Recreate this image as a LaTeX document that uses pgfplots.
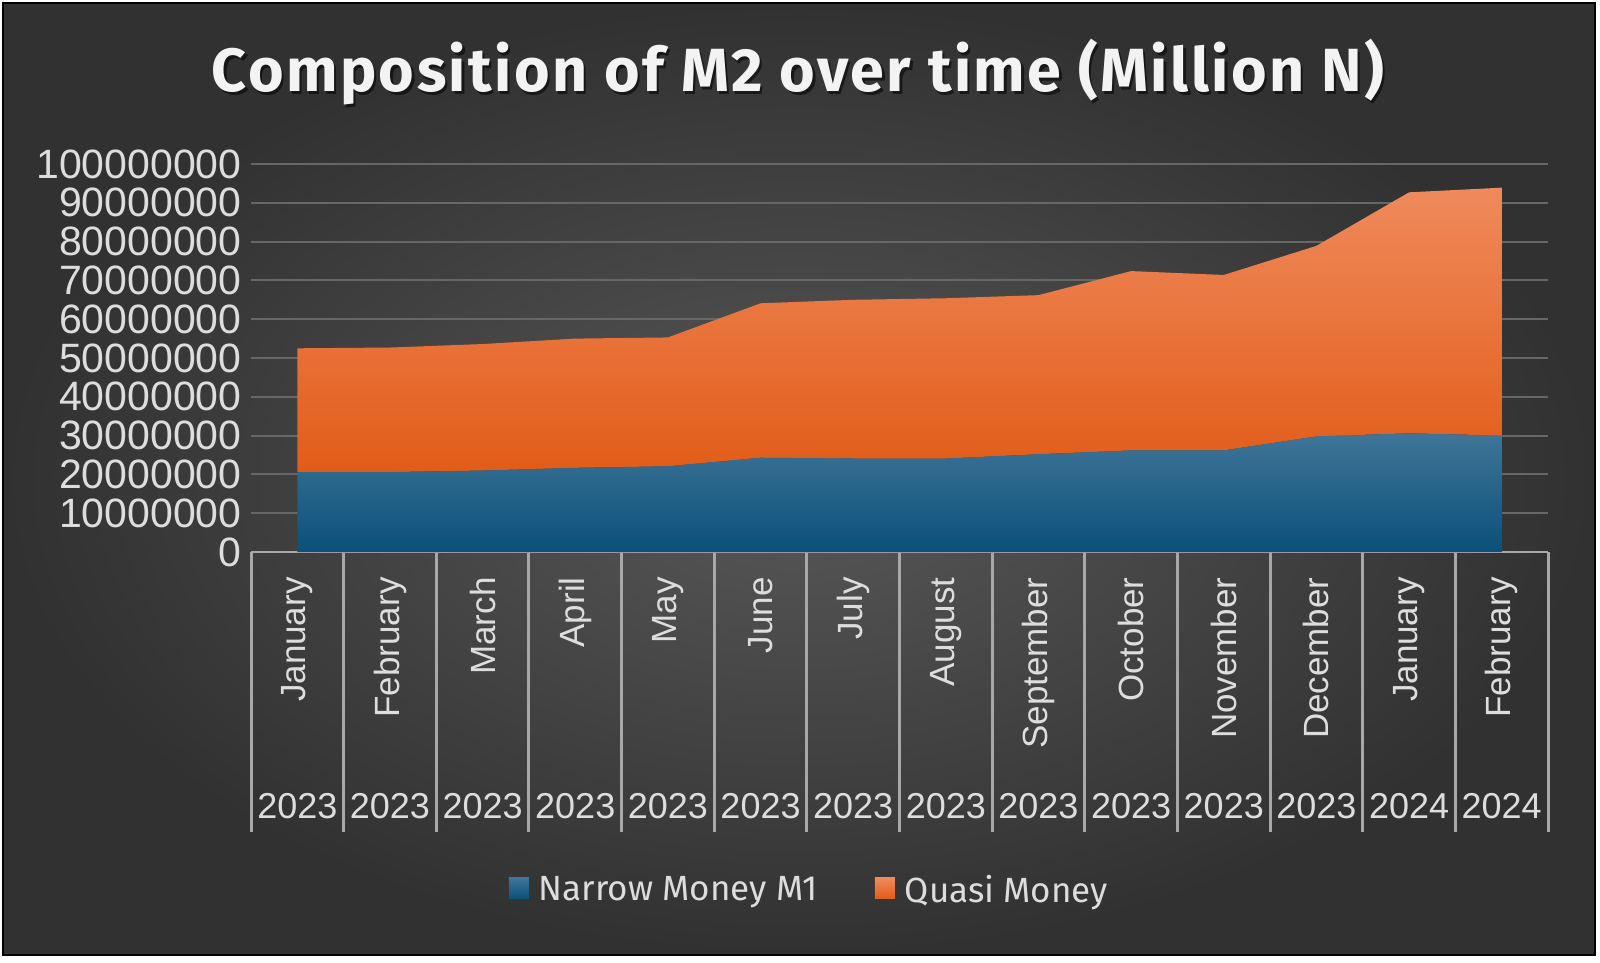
\documentclass[border=0pt]{standalone}
\usepackage{fontspec}
\setmainfont{Liberation Sans}
\newfontfamily\titlefont[LetterSpace=4]{Fira Sans}
\newfontfamily\legfont{Fira Sans}
\usepackage{pgfplots}
\usepackage{pgfplotstable}
\pgfplotsset{compat=1.18}
\definecolor{bgin}{HTML}{585858}
\definecolor{bgout}{HTML}{313131}
\definecolor{tickc}{HTML}{DDDDDD}
\definecolor{gridc}{HTML}{676767}
\definecolor{sepc}{HTML}{A8A8A8}
\definecolor{mtop}{HTML}{3F7598}
\definecolor{mbot}{HTML}{0A5078}
\definecolor{mc}{HTML}{1A6088}
\definecolor{qtop}{HTML}{EF8A5C}
\definecolor{qmid}{HTML}{EE6E2C}
\definecolor{qbot}{HTML}{E25C18}
\definecolor{qc}{HTML}{EE6E2C}
\definecolor{titc}{HTML}{F3F3F3}

\pgfplotstableread{
x m1 quasi
0 20600000 31900000
1 20600000 32100000
2 21000000 32600000
3 21700000 33300000
4 22100000 33200000
5 24300000 39800000
6 24100000 40900000
7 24100000 41300000
8 25200000 41000000
9 26200000 46200000
10 26200000 45200000
11 29800000 49100000
12 30600000 62100000
13 30000000 63900000
}\datatable

\begin{document}
\begin{tikzpicture}
\useasboundingbox (0pt,0pt) rectangle (800pt,-481.5pt);
\fill[white] (0pt,0pt) rectangle (800pt,-481.5pt);
\shade[inner color=bgin, outer color=bgout] (1.5pt,-1.5pt) rectangle (797.5pt,-477.5pt);
\draw[black, line width=0.8pt] (1.5pt,-1.5pt) rectangle (797.5pt,-477.5pt);

\node[anchor=base, text=black, opacity=0.55, font=\titlefont\bfseries\fontsize{30.5}{32}\selectfont] at (400.2pt,-47.2pt) {Composition of M2 over time (Million N)};
\node[anchor=base, text=titc, font=\titlefont\bfseries\fontsize{30.5}{32}\selectfont] at (399pt,-46pt) {Composition of M2 over time (Million N)};

\begin{axis}[
  at={(125.5pt,-276pt)}, anchor=south west,
  scale only axis, width=648.5pt, height=194pt,
  xmin=-0.5, xmax=13.5, ymin=0, ymax=100000000,
  stack plots=y,
  axis line style={draw=none},
  xtick={0,...,13},
  xticklabels={January,February,March,April,May,June,July,August,September,October,November,December,January,February},
  xtick pos=bottom, ytick pos=left,
  minor xtick={-0.5,0.5,...,13.5},
  major tick length=0pt,
  minor tick length=140pt,
  tick align=outside,
  minor tick style={draw=sepc, line width=1.5pt},
  xticklabel style={rotate=90, anchor=east, inner sep=0pt, font=\fontsize{17.5}{18}\selectfont, text=tickc},
  xticklabel shift=12.5pt,
  ytick={0,10000000,20000000,30000000,40000000,50000000,60000000,70000000,80000000,90000000,100000000},
  scaled y ticks=false,
  yticklabel style={/pgf/number format/.cd, fixed, precision=0, 1000 sep={}, assume math mode=true, /tikz/.cd, anchor=east, inner sep=0pt, xshift=-4.5pt, font=\fontsize{20.5}{21}\selectfont, text=tickc},
  ymajorgrids, grid style={gridc, line width=1pt},
  clip=false,
  legend columns=2,
  legend style={at={(0.4313,-0.871)}, anchor=center, draw=none, fill=none, text=tickc, font=\legfont\fontsize{17.5}{18}\selectfont, /tikz/every even column/.append style={column sep=26.5pt}},
  legend cell align=left,
]
\addplot[draw=none, top color=mtop, bottom color=mbot,
  legend image code/.code={\fill[mc] (-4pt,-4.5pt) rectangle (6pt,6pt);}]
  table[x=x, y=m1]{\datatable} \closedcycle;
\addlegendentry{\hspace{3pt}Narrow Money M1}
\addplot[draw=none, top color=qtop, middle color=qmid, bottom color=qbot,
  legend image code/.code={\fill[qc] (-4pt,-4.5pt) rectangle (6pt,6pt);}]
  table[x=x, y=quasi]{\datatable} \closedcycle;
\addlegendentry{\hspace{3pt}Quasi Money}
\draw[sepc, line width=1.2pt] (axis cs:-0.5,0) -- (axis cs:13.5,0);
\pgfplotsinvokeforeach{0,...,11}{\node[inner sep=0pt, text=tickc, font=\fontsize{18}{18}\selectfont] at (axis cs:#1,0) [yshift=-127pt] {2023};}
\pgfplotsinvokeforeach{12,13}{\node[inner sep=0pt, text=tickc, font=\fontsize{18}{18}\selectfont] at (axis cs:#1,0) [yshift=-127pt] {2024};}
\end{axis}
\end{tikzpicture}
\end{document}
